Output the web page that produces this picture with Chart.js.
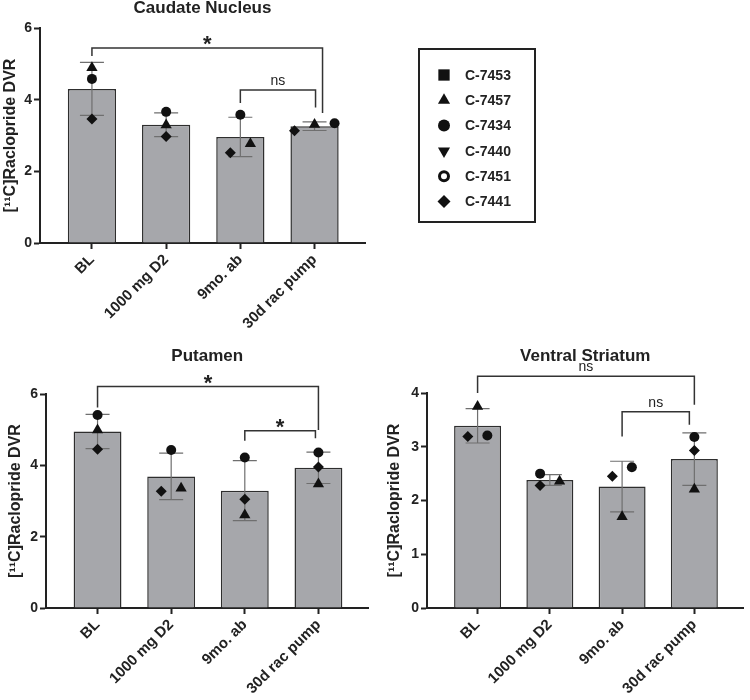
<!DOCTYPE html>
<html>
<head>
<meta charset="utf-8">
<script src="https://cdn.jsdelivr.net/npm/chart.js@4.4.0/dist/chart.umd.min.js"></script>
<style>
  body { margin: 0; background: #fff; }
  #wrap { position: relative; width: 750px; height: 700px; }
  canvas { position: absolute; }
</style>
</head>
<body>
<div id="wrap">
  <canvas id="caudate" width="375" height="350" style="left:0px;top:0px"></canvas>
  <canvas id="putamen" width="375" height="360" style="left:0px;top:340px"></canvas>
  <canvas id="ventral" width="370" height="360" style="left:380px;top:340px"></canvas>
  <canvas id="legend" width="130" height="185" style="left:412px;top:42px"></canvas>
</div>
<script>
// groups on the x axis
const groups = ['BL', '1000 mg D2', '9mo. ab', '30d rac pump'];
const animals = ['C-7453', 'C-7457', 'C-7434', 'C-7440', 'C-7451', 'C-7441'];
const markers = ['rect', 'triangle', 'circle', 'triangleDown', 'circleOpen', 'rectRot'];

// Caudate nucleus
const caudateMean = [4.30, 3.30, 2.96, 3.26];
const caudateSD = [0.74, 0.33, 0.55, 0.12];
const caudateC7457 = [4.89, 3.29, 2.77, 3.31];
const caudateC7434 = [4.58, 3.66, 3.58, 3.34];
const caudateC7441 = [3.46, 2.97, 2.52, 3.13];

// Putamen
const putamenMean = [4.95, 3.69, 3.29, 3.93];
const putamenSD = [0.48, 0.65, 0.84, 0.44];
const putamenC7457 = [4.99, 3.36, 2.61, 3.48];
const putamenC7434 = [5.41, 4.43, 4.22, 4.36];
const putamenC7441 = [4.45, 3.27, 3.05, 3.95];

// Ventral striatum
const ventralMean = [3.39, 2.38, 2.26, 2.77];
const ventralSD = [0.32, 0.10, 0.47, 0.49];
const ventralC7457 = [3.75, 2.36, 1.70, 2.21];
const ventralC7434 = [3.21, 2.50, 2.62, 3.18];
const ventralC7441 = [3.19, 2.28, 2.45, 2.93];

// significance brackets (group index from/to, heights in DVR units)
const caudateBrackets = [
  { from: 0, to: 3, y: 5.44, yFrom: 5.22, yTo: 3.63, text: '*', nudge: 8 },
  { from: 2, to: 3, y: 4.27, yFrom: 3.91, yTo: 3.78, text: 'ns', nudge: 1 }
];
const putamenBrackets = [
  { from: 0, to: 3, y: 6.21, yFrom: 5.62, yTo: 4.99, text: '*', nudge: 0 },
  { from: 2, to: 3, y: 4.97, yFrom: 4.69, yTo: 4.76, text: '*', nudge: -3 }
];
const ventralBrackets = [
  { from: 0, to: 3, y: 4.31, yFrom: 4.00, yTo: 3.78, text: 'ns', nudge: 0 },
  { from: 2, to: 3, y: 3.65, yFrom: 3.19, yTo: 3.41, text: 'ns', nudge: -5 }
];

const FONT = "'Liberation Sans', Arial, Helvetica, sans-serif";
const INK = '#222';
Chart.defaults.font.family = FONT;

const pointOpts = {
  triangle: { pointStyle: 'triangle', pointRadius: 6.5 },
  circle: { pointStyle: 'circle', pointRadius: 5 },
  rectRot: { pointStyle: 'rectRot', pointRadius: 5.5 }
};

// spread points that would overlap, like a column scatter does
const STEP = 0.27;
function dodge(seriesList, thr) {
  const offs = seriesList.map(s => s.map(() => 0));
  for (let g = 0; g < groups.length; g++) {
    const pts = seriesList.map((s, k) => ({ k, v: s[g] })).sort((a, b) => a.v - b.v);
    let cluster = [];
    let prev = null;
    const flush = () => {
      if (!cluster.length) return;
      const maxCol = Math.max(...cluster.map(p => p.col));
      cluster.forEach(p => { offs[p.k][g] = (p.col - maxCol / 2) * STEP; });
      cluster = [];
    };
    pts.forEach(p => {
      if (prev !== null && p.v - prev >= thr) flush();
      let c = 0;
      while (cluster.some(q => q.col === c && Math.abs(q.v - p.v) < thr)) c++;
      p.col = c;
      cluster.push(p);
      prev = p.v;
    });
    flush();
  }
  return offs;
}

const extrasPlugin = {
  id: 'extras',
  afterDatasetDraw(chart, args, opts) {
    if (args.index !== 0) return;
    const { ctx } = chart;
    const x = chart.scales.x, y = chart.scales.y;
    ctx.save();
    ctx.strokeStyle = '#6f6f6f';
    ctx.lineWidth = 1.2;
    opts.mean.forEach((m, i) => {
      const px = x.getPixelForValue(i);
      const top = y.getPixelForValue(m + opts.sd[i]);
      const bot = y.getPixelForValue(m - opts.sd[i]);
      ctx.beginPath();
      ctx.moveTo(px, top); ctx.lineTo(px, bot);
      ctx.moveTo(px - 12, top); ctx.lineTo(px + 12, top);
      ctx.moveTo(px - 12, bot); ctx.lineTo(px + 12, bot);
      ctx.stroke();
    });
    ctx.restore();
  },
  afterDraw(chart, args, opts) {
    const { ctx, chartArea } = chart;
    const x = chart.scales.x, y = chart.scales.y;
    ctx.save();
    // title
    ctx.fillStyle = INK;
    ctx.font = 'bold 17px ' + FONT;
    ctx.textAlign = 'center';
    ctx.textBaseline = 'middle';
    ctx.fillText(opts.title, (chartArea.left + chartArea.right) / 2, opts.titleY);
    // brackets
    ctx.strokeStyle = '#333';
    ctx.lineWidth = 1.5;
    opts.brackets.forEach(b => {
      const x1 = x.getPixelForValue(b.from);
      const x2 = x.getPixelForValue(b.to) + b.nudge;
      const yb = y.getPixelForValue(b.y);
      ctx.beginPath();
      ctx.moveTo(x1, y.getPixelForValue(b.yFrom));
      ctx.lineTo(x1, yb);
      ctx.lineTo(x2, yb);
      ctx.lineTo(x2, y.getPixelForValue(b.yTo));
      ctx.stroke();
      const mx = (x1 + x2) / 2;
      ctx.textBaseline = 'alphabetic';
      if (b.text === '*') {
        ctx.font = 'bold 22px ' + FONT;
        ctx.fillText('*', mx, yb + 3);
      } else {
        ctx.font = '14px ' + FONT;
        ctx.fillText(b.text, mx, yb - 5);
      }
    });
    ctx.restore();
  }
};

function makeChart(id, title, mean, sd, series, yMax, yStep, brackets, lay) {
  const offs = dodge(series.map(s => s.values), yMax * 0.047);
  const datasets = [{
    type: 'bar',
    data: mean.map((v, i) => ({ x: i, y: v })),
    backgroundColor: '#a6a7ab',
    borderColor: '#2e2e2e',
    borderWidth: 1.5,
    barPercentage: 0.65,
    categoryPercentage: 1,
    order: 10
  }];
  series.forEach((s, k) => {
    datasets.push(Object.assign({
      type: 'scatter',
      label: s.name,
      data: s.values.map((v, i) => ({ x: i + offs[k][i], y: v })),
      backgroundColor: '#111',
      borderColor: '#111',
      borderWidth: 0,
      order: 0
    }, pointOpts[s.marker]));
  });
  const tickFont = { family: FONT, size: 14, weight: 'bold' };
  return new Chart(document.getElementById(id), {
    data: { datasets },
    options: {
      responsive: false,
      animation: false,
      events: [],
      layout: { padding: { top: lay.padTop, left: lay.padLeft, right: lay.padRight, bottom: 0 } },
      plugins: {
        legend: { display: false },
        tooltip: { enabled: false },
        extras: { title, titleY: lay.titleY, mean, sd, brackets }
      },
      scales: {
        x: {
          type: 'linear',
          min: -0.7,
          max: 3.68,
          offset: false,
          bounds: 'data',
          afterBuildTicks: s => { s.ticks = groups.map((g, i) => ({ value: i })); },
          afterFit: s => { s.height = lay.xHeight; },
          ticks: {
            callback: v => groups[v],
            minRotation: 45, maxRotation: 45, autoSkip: false,
            color: INK, font: { family: FONT, size: 15, weight: 'bold' }, padding: 2
          },
          grid: { display: true, offset: false, drawOnChartArea: false, drawTicks: true, tickLength: 6, tickWidth: 2, tickColor: INK },
          border: { display: true, color: INK, width: 2 }
        },
        y: {
          min: 0,
          max: yMax,
          afterFit: s => { s.width = lay.yWidth; },
          ticks: { stepSize: yStep, color: INK, font: tickFont, padding: 2 },
          title: {
            display: true,
            text: '[\u00b9\u00b9C]Raclopride DVR',
            color: INK,
            font: { family: FONT, size: 16, weight: 'bold' },
            padding: { top: 1, bottom: 0 }
          },
          grid: { display: true, drawOnChartArea: false, drawTicks: true, tickLength: 6, tickWidth: 2, tickColor: INK },
          border: { display: true, color: INK, width: 2 }
        }
      }
    },
    plugins: [extrasPlugin]
  });
}

makeChart('caudate', 'Caudate Nucleus', caudateMean, caudateSD, [
  { name: 'C-7457', marker: 'triangle', values: caudateC7457 },
  { name: 'C-7434', marker: 'circle', values: caudateC7434 },
  { name: 'C-7441', marker: 'rectRot', values: caudateC7441 }
], 6, 2, caudateBrackets, { padTop: 28, padLeft: 0, padRight: 10, yWidth: 40, xHeight: 107, titleY: 8 });

makeChart('putamen', 'Putamen', putamenMean, putamenSD, [
  { name: 'C-7457', marker: 'triangle', values: putamenC7457 },
  { name: 'C-7434', marker: 'circle', values: putamenC7434 },
  { name: 'C-7441', marker: 'rectRot', values: putamenC7441 }
], 6, 2, putamenBrackets, { padTop: 54, padLeft: 5, padRight: 5, yWidth: 41, xHeight: 92, titleY: 16 });

makeChart('ventral', 'Ventral Striatum', ventralMean, ventralSD, [
  { name: 'C-7457', marker: 'triangle', values: ventralC7457 },
  { name: 'C-7434', marker: 'circle', values: ventralC7434 },
  { name: 'C-7441', marker: 'rectRot', values: ventralC7441 }
], 4, 1, ventralBrackets, { padTop: 53, padLeft: 4, padRight: 1, yWidth: 43, xHeight: 92, titleY: 16 });

// shared legend box
(function drawLegend() {
  const cv = document.getElementById('legend');
  const ctx = cv.getContext('2d');
  ctx.strokeStyle = INK;
  ctx.lineWidth = 2;
  ctx.strokeRect(7, 7, 116, 173);
  ctx.font = 'bold 14px ' + FONT;
  ctx.textBaseline = 'middle';
  animals.forEach((name, i) => {
    const cy = 33 + i * 25.3, cx = 32;
    const m = markers[i];
    ctx.fillStyle = '#111';
    ctx.strokeStyle = '#111';
    const pt = { pointStyle: m, radius: 6.5, rotation: 0, borderWidth: 0 };
    if (m === 'rect') pt.radius = 8;
    if (m === 'triangleDown') { pt.pointStyle = 'triangle'; pt.rotation = 180; pt.radius = 7; }
    if (m === 'triangle') pt.radius = 7;
    if (m === 'circle') pt.radius = 6;
    if (m === 'circleOpen') { pt.pointStyle = 'circle'; pt.radius = 4.5; pt.borderWidth = 3; ctx.fillStyle = '#fff'; ctx.lineWidth = 3; }
    Chart.helpers.drawPoint(ctx, pt, cx, cy);
    ctx.fillStyle = INK;
    ctx.fillText(name, 53, cy + 1);
  });
})();
</script>
</body>
</html>
